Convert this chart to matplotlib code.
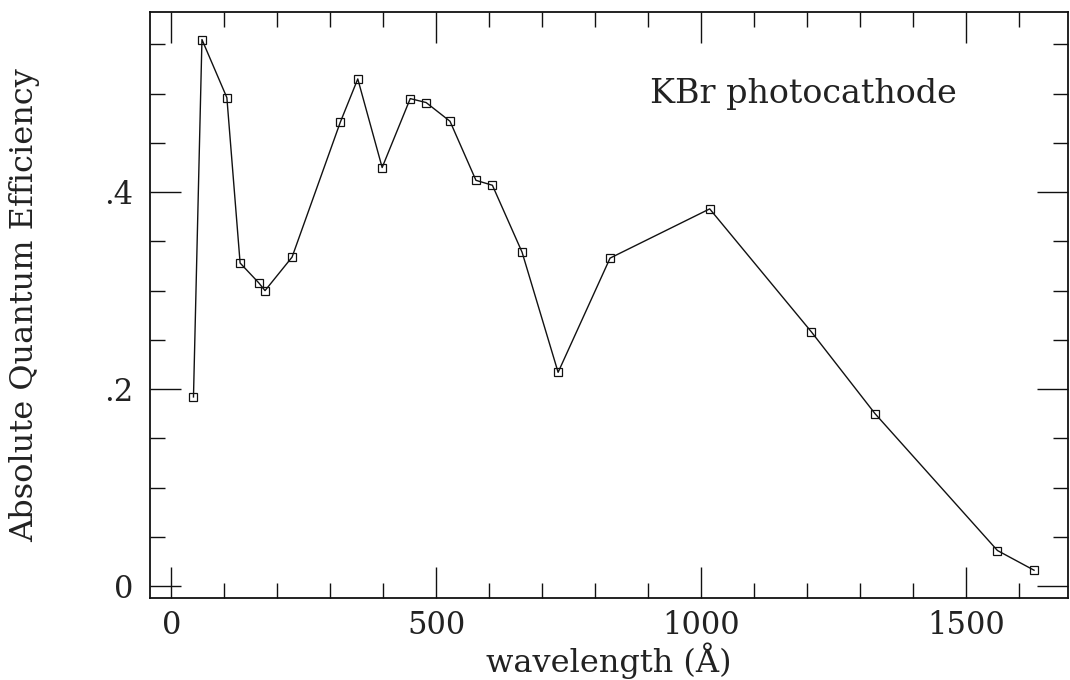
import matplotlib
matplotlib.use("Agg")
import matplotlib.pyplot as plt
from matplotlib.ticker import MultipleLocator

# KBr photocathode absolute quantum efficiency vs wavelength
wavelength = [42, 58, 105, 130, 165, 177, 228, 319, 352, 398, 451, 481,
              526, 575, 606, 662, 730, 828, 1016, 1208, 1328, 1559, 1628]
efficiency = [0.192, 0.555, 0.496, 0.328, 0.308, 0.300, 0.334, 0.471, 0.515,
              0.425, 0.495, 0.491, 0.472, 0.412, 0.407, 0.339, 0.217, 0.333,
              0.383, 0.258, 0.175, 0.036, 0.016]

x_major = [0, 500, 1000, 1500]
y_major = [0, 0.2, 0.4]
y_labels = ["0", ".2", ".4"]

plt.rcParams["font.family"] = ["DejaVu Serif"]

fig = plt.figure(figsize=(10.7, 6.8), dpi=100)
ax = fig.add_axes([0.1402, 0.1206, 0.8579, 0.8618])

ax.plot(wavelength, efficiency, color="#111111", lw=1.0,
        marker="s", ms=5.6, mfc="none", mec="#111111", mew=0.9)

ax.set_xlim(-40, 1692)
ax.set_ylim(-0.0122, 0.583)

ax.set_xticks(x_major)
ax.xaxis.set_minor_locator(MultipleLocator(100))
ax.set_yticks(y_major)
ax.set_yticklabels(y_labels)
ax.yaxis.set_minor_locator(MultipleLocator(0.05))

ax.tick_params(which="both", direction="in", top=True, right=True,
               width=1.0, color="#111111", labelsize=22, labelcolor="#222222")
ax.tick_params(which="major", length=22)
ax.tick_params(which="minor", length=11)
ax.tick_params(axis="x", which="major", pad=9)
ax.tick_params(axis="y", which="major", pad=12)

for s in ax.spines.values():
    s.set_linewidth(1.3)
    s.set_color("#111111")

ax.set_xlabel("wavelength (Å)", fontsize=23, color="#222222", labelpad=0.5)
ax.set_ylabel("Absolute Quantum Efficiency", fontsize=23, color="#222222",
              labelpad=46)

ax.text(1193, 0.4906, "KBr photocathode", fontsize=24, color="#222222",
        ha="center", va="baseline")

fig.savefig("out.png", dpi=100, facecolor="white")
